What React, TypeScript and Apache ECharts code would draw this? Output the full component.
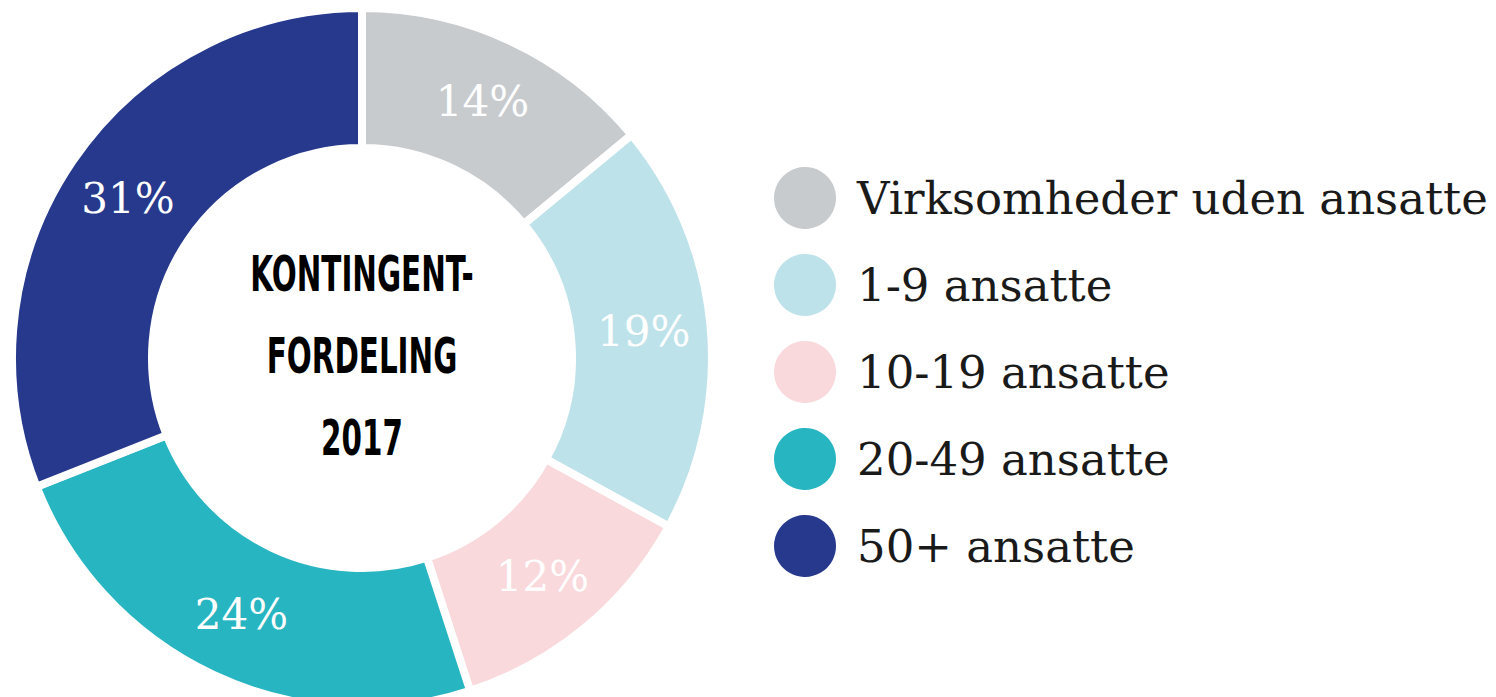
import React, { useEffect, useRef } from "react";
import * as echarts from "echarts";

const categories = [
  "Virksomheder uden ansatte",
  "1-9 ansatte",
  "10-19 ansatte",
  "20-49 ansatte",
  "50+ ansatte",
];
const values = [14, 19, 12, 24, 31];
const colors = ["#c8cbce", "#bde2e9", "#f9d9dc", "#27b5c1", "#26398c"];
const centerLines = ["KONTINGENT-", "FORDELING", "2017"];

export default function App() {
  const ref = useRef<HTMLDivElement>(null);
  useEffect(() => {
    if (!ref.current) return;
    const chart = echarts.init(ref.current, null, { renderer: "svg" });
    const cx = 362;
    const cy = 358;
    chart.setOption({
      animation: false,
      backgroundColor: "#ffffff",
      legend: {
        orient: "vertical",
        left: 767,
        top: 160,
        icon: "circle",
        itemWidth: 64,
        itemHeight: 64,
        itemGap: 21,
        selectedMode: false,
        textStyle: {
          fontFamily: "DejaVu Serif",
          fontSize: 45,
          color: "#1a1a1a",
          padding: [0, 0, 0, 15],
        },
        data: categories,
      },
      graphic: centerLines.map((t, i) => ({
        type: "text",
        x: cx,
        y: 299 + i * 82,
        scaleX: 0.6,
        style: {
          text: t,
          textAlign: "center",
          textVerticalAlign: "bottom",
          fontFamily: "DejaVu Sans",
          fontWeight: "bold",
          fontSize: 49,
          fill: "#000000",
        },
      })),
      series: [
        {
          type: "pie",
          center: [cx, cy],
          radius: [210, 350],
          startAngle: 90,
          clockwise: true,
          itemStyle: { borderColor: "#ffffff", borderWidth: 8 },
          label: {
            show: true,
            position: "inside",
            formatter: "{c}%",
            color: "#ffffff",
            fontFamily: "DejaVu Serif",
            fontSize: 42,
          },
          labelLine: { show: false },
          emphasis: { disabled: true },
          data: categories.map((name, i) => ({
            name,
            value: values[i],
            itemStyle: { color: colors[i] },
          })),
        },
      ],
    });
    return () => chart.dispose();
  }, []);
  return (
    <div
      ref={ref}
      style={{ position: "absolute", left: 0, top: 0, width: 1496, height: 697 }}
    />
  );
}
